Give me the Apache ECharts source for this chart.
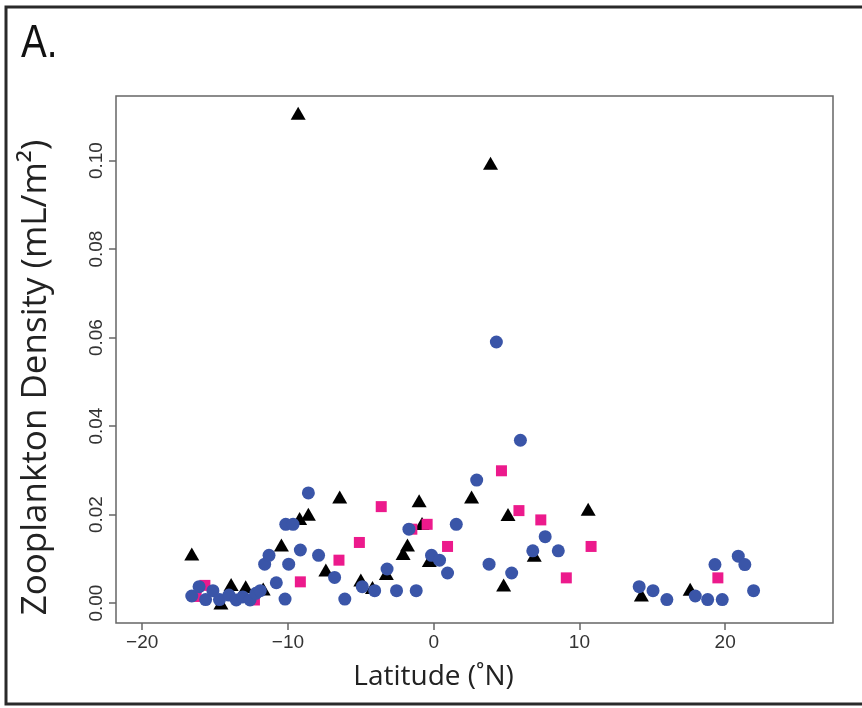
<!DOCTYPE html>
<html>
<head>
<meta charset="utf-8">
<script src="https://cdn.jsdelivr.net/npm/echarts@6/dist/echarts.min.js"></script>
<style>
html,body{margin:0;padding:0;background:#fff;}
#chart{width:862px;height:708px;}
</style>
</head>
<body>
<div id="chart"></div>
<script>
// ---- data ----
var panelLabel = "A.";
var xTitle = "Latitude (˚N)";
var yTitle = "Zooplankton Density (mL/m²)";
var xTickValues = [-20, -10, 0, 10, 20];
var xTickLabels = ["\u221220", "\u221210", "0", "10", "20"];
var yTickValues = [0, 0.02, 0.04, 0.06, 0.08, 0.10];
var yTickLabels = ["0.00", "0.02", "0.04", "0.06", "0.08", "0.10"];

var triangleLat = [-16.6, -9.3, 3.9, -14.6, -13.9, -12.9, -11.7, -10.45, -9.2, -8.6, -6.45, -7.4, -5.0, -4.2, -3.25, -2.1, -1.8, -1.0, -0.8, -0.3, 2.6, 5.1, 4.8, 6.9, 10.6, 14.25, 17.6];
var triangleDensity = [0.0111, 0.1107, 0.0994, 0.0000, 0.0042, 0.0037, 0.0032, 0.0131, 0.0191, 0.0201, 0.0240, 0.0075, 0.0052, 0.0035, 0.0067, 0.0112, 0.0131, 0.0231, 0.0180, 0.0096, 0.0240, 0.0200, 0.0041, 0.0108, 0.0212, 0.0018, 0.0031];

var squareLat = [-16.3, -15.7, -12.3, -9.15, -6.5, -5.1, -3.6, -1.5, -0.45, 0.95, 4.65, 5.85, 7.35, 9.1, 10.8, 19.5];
var squareDensity = [0.0015, 0.0040, 0.0007, 0.0048, 0.0097, 0.0137, 0.0218, 0.0167, 0.0178, 0.0128, 0.0299, 0.0209, 0.0188, 0.0057, 0.0128, 0.0057];

var circleLat = [-16.6, -16.1, -15.65, -15.15, -14.7, -14.05, -13.55, -13.1, -12.6, -12.2, -11.9, -11.6, -11.3, -10.8, -10.2, -10.15, -9.65, -9.95, -9.15, -8.6, -7.9, -6.8, -6.1, -4.9, -4.05, -3.2, -2.55, -1.7, -1.2, -0.15, 0.4, 0.95, 1.55, 2.95, 3.8, 4.3, 5.35, 5.95, 6.8, 7.65, 8.55, 14.1, 15.05, 16.0, 17.95, 18.8, 19.3, 19.8, 20.9, 21.35, 21.95];
var circleDensity = [0.0016, 0.0037, 0.0008, 0.0028, 0.0008, 0.0018, 0.0007, 0.0014, 0.0007, 0.0022, 0.0028, 0.0088, 0.0108, 0.0046, 0.0009, 0.0178, 0.0178, 0.0088, 0.0120, 0.0249, 0.0108, 0.0058, 0.0009, 0.0037, 0.0028, 0.0077, 0.0028, 0.0167, 0.0028, 0.0108, 0.0097, 0.0068, 0.0178, 0.0278, 0.0088, 0.0590, 0.0068, 0.0368, 0.0118, 0.0150, 0.0118, 0.0037, 0.0028, 0.0008, 0.0016, 0.0008, 0.0087, 0.0008, 0.0106, 0.0087, 0.0028];

function pairs(xs, ys) { return xs.map(function (x, i) { return [x, ys[i]]; }); }
function labelFor(values, labels) {
  return function (v) {
    for (var i = 0; i < values.length; i++) {
      if (Math.abs(values[i] - v) < 1e-9) return labels[i];
    }
    return '';
  };
}

var chart = echarts.init(document.getElementById('chart'), null, {renderer: 'canvas'});
var axisColor = '#666';
var option = {
  animation: false,
  backgroundColor: '#fff',
  grid: {left: 116, top: 96, width: 717, height: 527, show: true, borderColor: axisColor, borderWidth: 1.5, backgroundColor: 'transparent'},
  xAxis: {
    type: 'value', min: -21.8, max: 27.4,
    name: xTitle, nameLocation: 'middle', nameGap: 40,
    nameTextStyle: {fontFamily: 'Open Sans', fontSize: 28, color: '#222', padding: [0, 82, 0, 0]},
    axisLine: {show: false, onZero: false},
    splitLine: {show: false},
    axisTick: {show: true, inside: false, length: 7, customValues: xTickValues, lineStyle: {color: axisColor, width: 1.5}},
    axisLabel: {customValues: xTickValues, formatter: labelFor(xTickValues, xTickLabels), margin: 10, fontFamily: 'Liberation Sans', fontSize: 19, color: '#333'}
  },
  yAxis: {
    type: 'value', min: -0.0045, max: 0.1146,
    name: yTitle, nameLocation: 'middle', nameGap: 62, nameRotate: 90,
    nameTextStyle: {fontFamily: 'Open Sans', fontSize: 35, color: '#222', padding: [0, 36, 0, 0]},
    axisLine: {show: false, onZero: false},
    splitLine: {show: false},
    axisTick: {show: true, inside: false, length: 7, customValues: yTickValues, lineStyle: {color: axisColor, width: 1.5}},
    axisLabel: {customValues: yTickValues, formatter: labelFor(yTickValues, yTickLabels), rotate: 90, margin: 10, fontFamily: 'Liberation Sans', fontSize: 19, color: '#333'}
  },
  graphic: [
    {type: 'rect', shape: {x: 6, y: 7, width: 900, height: 697}, style: {fill: 'none', stroke: '#2a2a2a', lineWidth: 3}, silent: true},
    {type: 'text', x: 21, y: 21, scaleX: 0.84, style: {text: panelLabel, font: '46px "Liberation Sans", sans-serif', fill: '#111'}}
  ],
  series: [
    {name: 'Triangles', type: 'scatter', symbol: 'triangle', symbolSize: [15, 13], itemStyle: {color: '#000', opacity: 1}, data: pairs(triangleLat, triangleDensity), z: 2},
    {name: 'Squares', type: 'scatter', symbol: 'rect', symbolSize: 11, itemStyle: {color: '#ec1a8c', opacity: 1}, data: pairs(squareLat, squareDensity), z: 3},
    {name: 'Circles', type: 'scatter', symbol: 'circle', symbolSize: 13, itemStyle: {color: '#3a55a8', opacity: 1}, data: pairs(circleLat, circleDensity), z: 4}
  ]
};
chart.setOption(option);
</script>
</body>
</html>
